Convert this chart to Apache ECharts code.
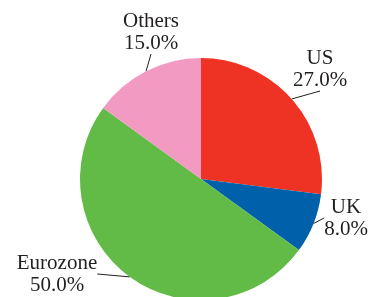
<!DOCTYPE html>
<html>
<head>
<meta charset="utf-8">
<script src="https://cdn.jsdelivr.net/npm/echarts@6/dist/echarts.min.js"></script>
<style>
  html, body { margin: 0; padding: 0; background: #fff; }
  #main { width: 372px; height: 297px; }
</style>
</head>
<body>
<div id="main"></div>
<script>
// data
var regions = ['US', 'UK', 'Eurozone', 'Others'];
var shares = [27.0, 8.0, 50.0, 15.0];
var colors = ['#ee3224', '#0061aa', '#62bb47', '#f29ac2'];

// where each label block sits (centre of the two text lines)
var labelSpots = [[320, 69], [346, 218], [57, 274], [151, 32]];

var myChart = echarts.init(document.getElementById('main'));

var pieData = [];
for (var i = 0; i < regions.length; i++) {
    pieData.push({ name: regions[i], value: shares[i], itemStyle: { color: colors[i] } });
}

var option = {
    animation: false,
    series: [{
        type: 'pie',
        center: [201, 179],
        radius: 121,
        startAngle: 90,
        clockwise: true,
        data: pieData,
        label: {
            show: true,
            position: 'outside',
            fontFamily: 'Liberation Serif',
            fontSize: 21,
            lineHeight: 22,
            color: '#231f20',
            overflow: 'none',
            formatter: function (p) {
                return p.name + '\n' + p.value.toFixed(1) + '%';
            }
        },
        labelLine: {
            show: true,
            length: 10,
            length2: 0,
            lineStyle: { color: '#231f20', width: 1 }
        },
        labelLayout: function (params) {
            var s = labelSpots[params.dataIndex];
            return { x: s[0], y: s[1], align: 'center', verticalAlign: 'middle' };
        },
        itemStyle: { borderWidth: 0 }
    }]
};

myChart.setOption(option);
window.addEventListener('resize', function () {
    myChart.resize();
});
</script>
</body>
</html>
